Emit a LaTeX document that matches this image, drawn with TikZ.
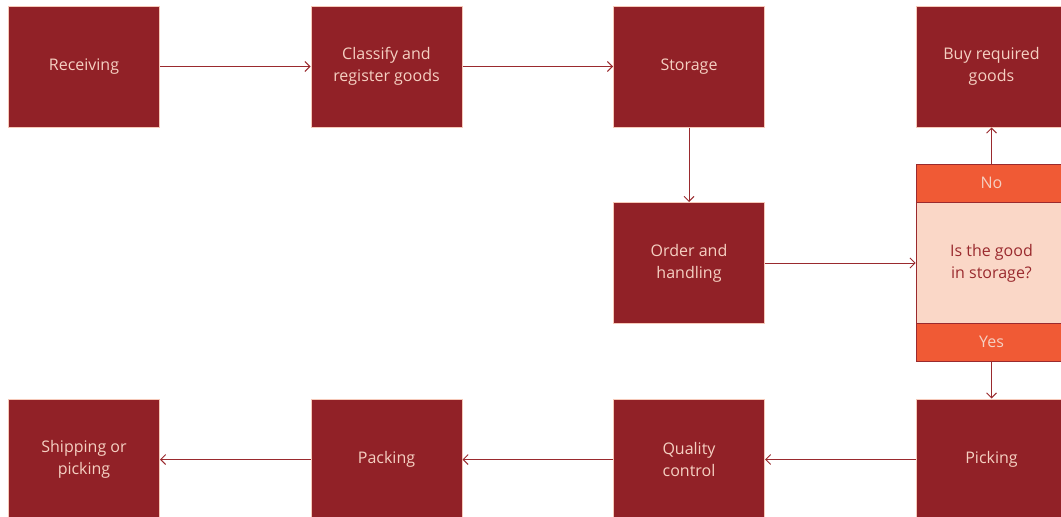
\documentclass[tikz,border=0pt]{standalone}
\usepackage{fontspec}
\setmainfont{Open Sans}
\usetikzlibrary{arrows.meta}
\definecolor{boxred}{HTML}{912127}
\definecolor{boxedge}{HTML}{F6C9B9}
\definecolor{boxtext}{HTML}{F5D0C2}
\definecolor{linered}{HTML}{9A2A2E}
\definecolor{band}{HTML}{F05A35}
\definecolor{qfill}{HTML}{FAD7C7}
\tikzset{
  txt/.style={font=\fontsize{16}{22}\selectfont},
  stepbox/.style={draw=boxedge, line width=1pt, fill=boxred, text=boxtext,
    minimum width=151pt, minimum height=121pt, align=center, inner sep=0pt, txt},
  bandbox/.style={draw=linered, line width=0.8pt, fill=band, text=boxtext,
    minimum width=151pt, minimum height=38pt, inner sep=0pt, txt},
  qbox/.style={draw=linered, line width=0.8pt, fill=qfill, text=linered,
    minimum width=151pt, minimum height=121pt, align=center, inner sep=0pt, txt},
  conn/.style={draw=linered, line width=0.9pt, -{Straight Barb[length=5pt,width=10pt]}}
}
\begin{document}
\begin{tikzpicture}[x=1pt,y=-1pt]
\useasboundingbox (0,0) rectangle (1061,517);
\clip (0,0) rectangle (1061,517);
\fill[white] (0,0) rectangle (1061,517);
\node[stepbox] (recv) at (84,66.5) {Receiving};
\node[stepbox] (class) at (386.5,66.5) {Classify and\\register goods};
\node[stepbox] (stor) at (689,66.5) {Storage};
\node[stepbox] (buy) at (991.5,66.5) {Buy required\\goods};
\node[stepbox] (order) at (689,263) {Order and\\handling};
\node[bandbox] (no) at (991.5,183) {No};
\node[qbox] (q) at (991.5,263) {Is the good\\in storage?};
\node[bandbox] (yes) at (991.5,342) {Yes};
\node[stepbox] (pick) at (991.5,459.5) {Picking};
\node[stepbox] (qc) at (689,459.5) {Quality\\control};
\node[stepbox] (pack) at (386.5,459.5) {Packing};
\node[stepbox] (ship) at (84,459.5) {Shipping or\\picking};
\draw[conn] (recv) -- (class);
\draw[conn] (class) -- (stor);
\draw[conn] (stor) -- (order);
\draw[conn] (order) -- (q);
\draw[conn] (no) -- (buy);
\draw[conn] (yes) -- (pick);
\draw[conn] (pick) -- (qc);
\draw[conn] (qc) -- (pack);
\draw[conn] (pack) -- (ship);
\end{tikzpicture}
\end{document}
